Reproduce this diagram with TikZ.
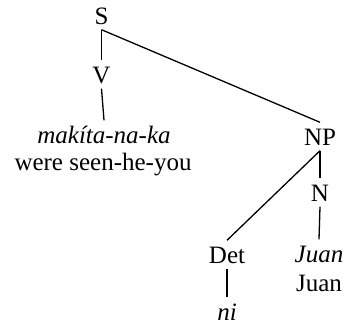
\documentclass[tikz,border=0pt]{standalone}
\usepackage{fontspec}
\setmainfont{Liberation Serif}
\newcommand{\treefont}{\fontsize{25}{30}\selectfont}
\begin{document}
\begin{tikzpicture}[x=1pt,y=-1pt,
  every node/.style={inner xsep=0pt, inner ysep=5.5pt, text height=17pt, text depth=0pt, anchor=base},
  cat/.style={font=\treefont},
  leaf/.style={font=\treefont\itshape},
  edge/.style={draw=black, line width=1.3pt}]
\useasboundingbox (0,0) rectangle (347,327);
\node[cat] (S) at (101.5,24) {S};
\node[cat] (V) at (101.5,83) {V};
\node[leaf] (mak) at (104,143) {makíta-na-ka};
\node[cat] (gl1) at (103,170) {were seen-he-you};
\node[cat] (NP) at (320,145) {NP};
\node[cat] (N) at (320,201) {N};
\node[cat] (Det) at (227,263) {Det};
\node[leaf] (ni) at (227,320) {ni};
\node[leaf] (juan) at (319,262) {Juan};
\node[cat] (gl2) at (319,291) {Juan};
\draw[edge] (S.south) -- (V.north);
\draw[edge] (V.south) -- (mak.north);
\draw[edge] (S.south) -- (NP.north);
\draw[edge] (NP.south) -- (N.north);
\draw[edge] (NP.south) -- (Det.north);
\draw[edge] (N.south) -- (juan.north);
\draw[edge] (Det.south) -- (ni.north);
\end{tikzpicture}
\end{document}
